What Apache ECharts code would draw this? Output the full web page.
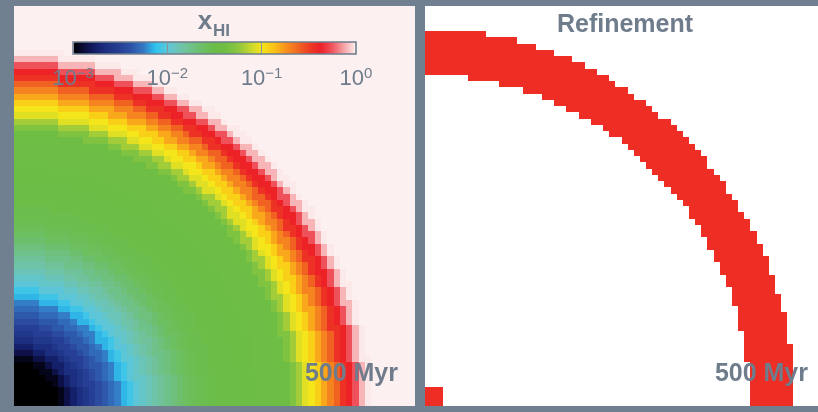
<!DOCTYPE html>
<html>
<head>
<meta charset="utf-8">
<script src="https://cdn.jsdelivr.net/npm/echarts@6/dist/echarts.min.js"></script>
<style>
  html, body { margin: 0; padding: 0; background: #708090; }
  #chart { width: 818px; height: 412px; }
</style>
</head>
<body>
<div id="chart"></div>
<script>
// Simulation box: 64 x 64 cells, source in the lower-left corner.
const gridCells = 64;

// Ring-averaged neutral fraction, log10(x_HI), for each cell radius 0..57 (cell units);
// cells further out are fully neutral.
const radialLogXHI = [
  -3.00, -3.00, -3.00, -3.00, -3.00, -3.00, -3.00, -2.95, -2.85, -2.75,
  -2.65, -2.58, -2.50, -2.43, -2.36, -2.30, -2.24, -2.15, -2.08, -2.00,
  -1.95, -1.90, -1.85, -1.80, -1.75, -1.70, -1.65, -1.60, -1.57, -1.55,
  -1.53, -1.52, -1.50, -1.50, -1.49, -1.48, -1.47, -1.46, -1.46, -1.45,
  -1.45, -1.44, -1.42, -1.40, -1.30, -1.20, -1.05, -1.00, -0.92, -0.80,
  -0.70, -0.60, -0.45, -0.38, -0.26, -0.10, -0.01, 0.00
];

// Refined cells: a shell between these radii (cell units) plus a 3x3 block at the source.
const refinedShell = [52.95, 60.3];
const refinedCoreCells = 3;

// Colour scale for log10(x_HI), evenly spaced from -3 to 0 (1/8 decade per entry).
const colorScale = [
  '#000000', '#0c0c40', '#15206a', '#1e3284', '#263f94', '#2d55a8', '#3478c4',
  '#2ec4ef', '#5cc6d8', '#6fc4b0', '#6fc18a', '#6dbf66', '#6bbd47', '#6fbe44',
  '#8cc63f', '#c2d52e', '#f5e51b', '#fbc317', '#f7941d', '#f26a22', '#ee3d24',
  '#ec2127', '#ef5560', '#f6a6aa', '#fcf0f0'
];
const colorTickExponents = [-3, -2, -1, 0];

const snapshotLabel = '500 Myr';
const refinedColor = '#ee2e24';
const inkColor = '#6e7c8c';
const frameColor = '#708090';
const fontFamily = 'Liberation Sans';

const cellIndex = Array.from({ length: gridCells }, (_, i) => i);

const xhiCells = [];
const refinedCells = [];
for (let i = 0; i < gridCells; i++) {
  for (let j = 0; j < gridCells; j++) {
    const d = Math.hypot(i + 0.5, j + 0.5);
    const k = Math.floor(d);
    xhiCells.push([i, j, k < radialLogXHI.length ? radialLogXHI[k] : 0]);
    const inShell = d >= refinedShell[0] && d <= refinedShell[1];
    const inCore = i < refinedCoreCells && j < refinedCoreCells;
    if (inShell || inCore) refinedCells.push([i, j, 1]);
  }
}

// One cell per data item, snapped to whole pixels so neighbouring cells tile without seams.
function cellRect(fillFn) {
  return (params, api) => {
    const c = api.coord([api.value(0), api.value(1)]);
    const s = api.size([1, 1]);
    const x0 = Math.round(c[0] - s[0] / 2), x1 = Math.round(c[0] + s[0] / 2);
    const y0 = Math.round(c[1] - s[1] / 2), y1 = Math.round(c[1] + s[1] / 2);
    return {
      type: 'rect',
      shape: { x: x0, y: y0, width: x1 - x0, height: y1 - y0 },
      style: { fill: fillFn(api) }
    };
  };
}

const chart = echarts.init(document.getElementById('chart'), null, { renderer: 'canvas' });

const hiddenCat = (gridIndex) => ({
  type: 'category', gridIndex, data: cellIndex, show: false, boundaryGap: true
});

const superscript = { '-3': '−3', '-2': '−2', '-1': '−1', '0': '0' };
const boldText = (size) => ({ fontSize: size, fontWeight: 'bold', color: inkColor, fontFamily });

chart.setOption({
  backgroundColor: frameColor,
  animation: false,
  textStyle: { fontFamily },
  grid: [
    { left: 14, top: 6, width: 401, height: 400, show: true, backgroundColor: '#fcf0f0', borderWidth: 0 },
    { left: 425, top: 6, width: 400, height: 400, show: true, backgroundColor: '#ffffff', borderWidth: 0 },
    { left: 73, top: 42, width: 283, height: 12, show: true, z: 10,
      backgroundColor: 'transparent', borderColor: inkColor, borderWidth: 1.5 }
  ],
  xAxis: [
    hiddenCat(0),
    hiddenCat(1),
    {
      type: 'value', gridIndex: 2, min: -3, max: 0, interval: 1, position: 'bottom', z: 10,
      axisLine: { show: false },
      splitLine: { show: false },
      axisTick: { show: true, inside: true, length: 12, lineStyle: { color: '#8793a0', width: 1 } },
      axisLabel: {
        margin: 12,
        formatter: (v) => '{b|10}{s|' + superscript[String(v)] + '}',
        rich: {
          b: { fontSize: 22, color: inkColor, fontFamily },
          s: { fontSize: 15, color: inkColor, fontFamily, padding: [0, 0, 10, 0] }
        }
      }
    }
  ],
  yAxis: [
    hiddenCat(0),
    hiddenCat(1),
    { type: 'value', gridIndex: 2, min: 0, max: 1, show: false }
  ],
  visualMap: {
    type: 'continuous',
    seriesIndex: 0,
    dimension: 2,
    min: -3,
    max: 0,
    orient: 'horizontal',
    left: 73,
    top: 42,
    itemWidth: 12,
    itemHeight: 283,
    padding: 0,
    calculable: false,
    hoverLink: false,
    text: null,
    inRange: { color: colorScale }
  },
  title: [
    { text: 'x', left: 205, top: 9, textAlign: 'center', padding: 0, textStyle: boldText(26) },
    { text: 'HI', left: 213, top: 23, textAlign: 'left', padding: 0, textStyle: boldText(17) },
    { text: 'Refinement', left: 625, top: 13, textAlign: 'center', padding: 0, textStyle: boldText(25) },
    { text: snapshotLabel, left: 398, top: 362, textAlign: 'right', padding: 0, textStyle: boldText(25) },
    { text: snapshotLabel, left: 808, top: 362, textAlign: 'right', padding: 0, textStyle: boldText(25) }
  ],
  series: [
    {
      type: 'custom', xAxisIndex: 0, yAxisIndex: 0, data: xhiCells,
      encode: { x: 0, y: 1 }, silent: true, clip: true,
      renderItem: cellRect((api) => api.visual('color'))
    },
    {
      type: 'custom', xAxisIndex: 1, yAxisIndex: 1, data: refinedCells,
      encode: { x: 0, y: 1 }, silent: true, clip: true,
      renderItem: cellRect(() => refinedColor)
    }
  ]
});
</script>
</body>
</html>
